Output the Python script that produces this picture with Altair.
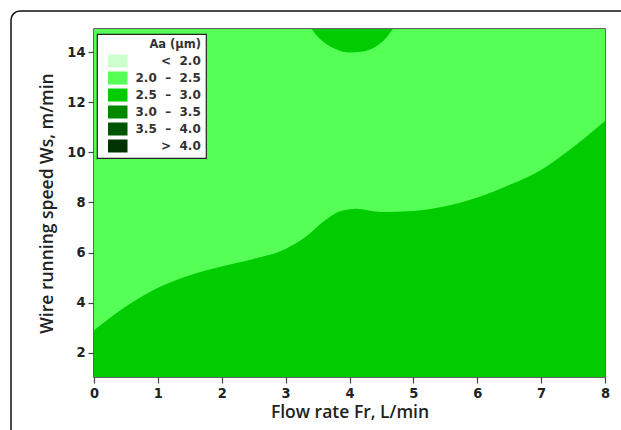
import altair as alt
import pandas as pd

# Domain of the plot
x_min, x_max = 0, 8
y_min, y_max = 1.04, 14.92

# Contour levels (legend)
levels = ["<\u00a0\u00a02.0", "2.0\u00a0\u00a0–\u00a0\u00a02.5", "2.5\u00a0\u00a0–\u00a0\u00a03.0",
          "3.0\u00a0\u00a0–\u00a0\u00a03.5", "3.5\u00a0\u00a0–\u00a0\u00a04.0", ">\u00a0\u00a04.0"]
level_colors = ["#CCFFCC", "#55FF55", "#00CC00", "#008800", "#005500", "#003300"]

# Boundary between 2.0–2.5 (above) and 2.5–3.0 (below) regions
bound_x = [0, 0.5, 1, 1.5, 2, 2.5, 3, 3.3, 3.6, 3.85, 4.1, 4.5, 5, 5.5, 6, 6.5, 7, 7.5, 8]
bound_y = [2.9, 3.85, 4.6, 5.1, 5.45, 5.75, 6.15, 6.6, 7.25, 7.65, 7.75, 7.62, 7.66, 7.85,
           8.2, 8.7, 9.3, 10.2, 11.25]

# Small 2.5–3.0 island at the top near Fr = 4
blob_x = [3.41, 3.5, 3.62, 3.8, 4.0, 4.2, 4.4, 4.55, 4.68]
blob_y = [14.92, 14.62, 14.35, 14.1, 13.98, 14.02, 14.2, 14.5, 14.92]

label_font = "DejaVu Sans Condensed, DejaVu Sans"

color = alt.Color(
    "level:N",
    scale=alt.Scale(domain=levels, range=level_colors),
    legend=alt.Legend(
        title="Aa (μm)",
        orient="none", legendX=3, legendY=5,
        fillColor="white", strokeColor="#222",
        padding=5,
        titleFont="DejaVu Sans", titleFontSize=11.5, titleFontWeight="bold", titleColor="#333",
        titleAnchor="end", titlePadding=4,
        labelFont="DejaVu Sans", labelFontSize=12, labelFontWeight="bold", labelColor="#333",
        labelAlign="right", labelOffset=76.5,
        symbolType="M-1.5,-1H1.5V1H-1.5Z", symbolSize=169, symbolStrokeWidth=0,
        symbolOffset=9.25, symbolOpacity=1, rowPadding=4,
    ),
)

bg_df = pd.DataFrame({"x0": [x_min], "x1": [x_max], "y0": [y_min], "y1": [y_max],
                      "level": [levels[1]]})
area_df = pd.DataFrame({"x": bound_x, "y": bound_y, "ybase": [y_min] * len(bound_x),
                        "level": [levels[2]] * len(bound_x)})
blob_df = pd.DataFrame({"x": blob_x, "y": blob_y, "ytop": [y_max] * len(blob_x),
                        "level": [levels[2]] * len(blob_x)})

xscale = alt.Scale(domain=[x_min, x_max], nice=False, zero=False)
yscale = alt.Scale(domain=[y_min, y_max], nice=False, zero=False)

xaxis = alt.Axis(values=list(range(0, 9)), format="d", title="Flow rate Fr, L/min", grid=False,
                 domain=False, tickColor="#444", tickSize=6, tickWidth=1.2, labelFlush=False,
                 labelFont=label_font, labelFontSize=14.5, labelFontWeight="bold",
                 labelColor="#222", labelPadding=3,
                 titleFont="Open Sans", titleFontSize=17.5, titleFontWeight=600,
                 titleColor="#222", titlePadding=4)
yaxis = alt.Axis(values=[2, 4, 6, 8, 10, 12, 14], format="d",
                 title="Wire running speed Ws, m/min", labelFlush=False,
                 grid=False, domain=False, tickColor="#444", tickSize=6, tickWidth=1.2,
                 labelFont=label_font, labelFontSize=14.5, labelFontWeight="bold",
                 labelColor="#222", labelPadding=3,
                 titleFont="Open Sans", titleFontSize=17.5, titleFontWeight=600,
                 titleColor="#222", titlePadding=10)

bg = alt.Chart(bg_df).mark_rect().encode(
    x=alt.X("x0:Q", scale=xscale, axis=xaxis),
    x2="x1:Q",
    y=alt.Y("y0:Q", scale=yscale, axis=yaxis),
    y2="y1:Q",
    color=color,
)

lower = alt.Chart(area_df).mark_area(interpolate="monotone", opacity=1).encode(
    x=alt.X("x:Q", scale=xscale),
    y=alt.Y("y:Q", scale=yscale),
    y2="ybase:Q",
    color=color,
)

blob = alt.Chart(blob_df).mark_area(interpolate="monotone", opacity=1).encode(
    x=alt.X("x:Q", scale=xscale),
    y=alt.Y("y:Q", scale=yscale),
    y2="ytop:Q",
    color=color,
)

frame = alt.Chart(pd.DataFrame({"a": [0]})).mark_rect(
    fillOpacity=0, stroke="#111", strokeWidth=1.5, cornerRadius=9
).encode(
    x=alt.value(-83), y=alt.value(-18), x2=alt.value(800), y2=alt.value(600)
)

chart = alt.layer(bg, lower, blob, frame).properties(
    width=511, height=348,
    autosize=alt.AutoSizeParams(type="none"),
    padding={"left": 94, "top": 29, "right": 16, "bottom": 53},
    background="white",
).configure_view(stroke="#333", strokeWidth=1.5
).configure_legend(strokeWidth=1.2, cornerRadius=0)

chart.save("out.html", embed_options={"renderer": "svg", "actions": False})
